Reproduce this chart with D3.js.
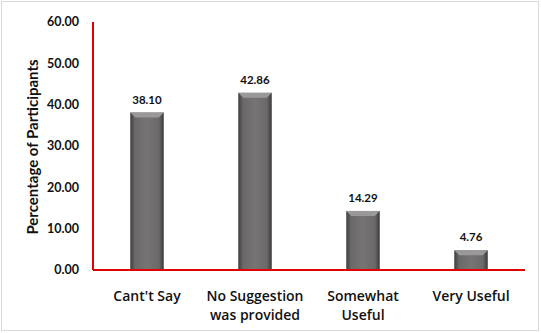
<!DOCTYPE html>
<html>
<head>
<meta charset="utf-8">
<script src="https://cdn.jsdelivr.net/npm/d3@7"></script>
<style>
  body { margin: 0; background: #fff; }
  svg { display: block; font-family: Lato, "Open Sans", sans-serif; }
</style>
</head>
<body>
<div id="chart"></div>
<script>
// chart values
var categories = ["Cant't Say", "No Suggestion|was provided", "Somewhat|Useful", "Very Useful"];
var values = [38.10, 42.86, 14.29, 4.76];
var yTicks = [0, 10, 20, 30, 40, 50, 60];

var W = 541, H = 333;
var m = {top: 22, right: 16, bottom: 63, left: 93};

var svg = d3.select("#chart").append("svg")
    .attr("width", W)
    .attr("height", H);

// outer frame
svg.append("rect")
    .attr("x", 1.5).attr("y", 1.5)
    .attr("width", W - 4).attr("height", H - 4)
    .attr("fill", "#fff")
    .attr("stroke", "#d9d9d9");

var defs = svg.append("defs");
var grad = defs.append("linearGradient").attr("id", "barGrad")
    .attr("x1", "0%").attr("x2", "100%").attr("y1", "0%").attr("y2", "0%");
grad.append("stop").attr("offset", "0%").attr("stop-color", "#3e3c3c");
grad.append("stop").attr("offset", "14%").attr("stop-color", "#6a6868");
grad.append("stop").attr("offset", "50%").attr("stop-color", "#767474");
grad.append("stop").attr("offset", "86%").attr("stop-color", "#6a6868");
grad.append("stop").attr("offset", "100%").attr("stop-color", "#3a3838");

var x = d3.scaleBand()
    .domain(categories)
    .range([m.left, W - m.right])
    .paddingInner(0.69)
    .paddingOuter(0.345);

var y = d3.scaleLinear()
    .domain([0, 60])
    .range([H - m.bottom, m.top]);

var g = svg.append("g");

// bars
var bars = g.selectAll(".bar").data(values).enter().append("g").attr("class", "bar");

bars.append("rect")
    .attr("x", function(d, i) { return x(categories[i]); })
    .attr("y", function(d) { return y(d); })
    .attr("width", x.bandwidth())
    .attr("height", function(d) { return y(0) - y(d); })
    .attr("fill", "url(#barGrad)");

// top bevel
bars.append("path")
    .attr("d", function(d, i) {
        var x0 = x(categories[i]), x1 = x0 + x.bandwidth(), t = y(d), b = 5;
        return "M" + x0 + "," + t + "L" + x1 + "," + t + "L" + (x1 - b) + "," + (t + b) + "L" + (x0 + b) + "," + (t + b) + "Z";
    })
    .attr("fill", "#9a9898");

// value labels
bars.append("text")
    .attr("x", function(d, i) { return x(categories[i]) + x.bandwidth() / 2; })
    .attr("y", function(d) { return y(d) - 9; })
    .attr("text-anchor", "middle")
    .attr("font-size", 11.5)
    .attr("font-weight", "bold")
    .attr("fill", "#111")
    .text(function(d) { return d.toFixed(2); });

// y tick labels
g.selectAll(".ytick").data(yTicks).enter().append("text")
    .attr("x", 79)
    .attr("y", function(d) { return y(d); })
    .attr("dy", "0.35em")
    .attr("text-anchor", "end")
    .attr("font-size", 12.5)
    .attr("font-weight", "bold")
    .attr("fill", "#111")
    .text(function(d) { return d.toFixed(2); });

// x category labels
var xl = g.selectAll(".xlab").data(categories).enter().append("text")
    .attr("text-anchor", "middle")
    .attr("font-family", "'Open Sans', sans-serif")
    .attr("font-size", 14)
    .attr("font-weight", 600)
    .attr("fill", "#111")
    .attr("transform", function(d) { return "translate(" + (x(d) + x.bandwidth() / 2) + "," + (y(0) + 31) + ")"; });
xl.selectAll("tspan").data(function(d) { return d.split("|"); }).enter().append("tspan")
    .attr("x", 0)
    .attr("dy", function(d, i) { return i === 0 ? 0 : 19; })
    .text(function(d) { return d; });

// axis lines in red
g.append("line")
    .attr("x1", m.left).attr("x2", m.left)
    .attr("y1", y(60)).attr("y2", y(0))
    .attr("stroke", "#e00000").attr("stroke-width", 2);
g.append("line")
    .attr("x1", m.left).attr("x2", W - m.right)
    .attr("y1", y(0)).attr("y2", y(0))
    .attr("stroke", "#e00000").attr("stroke-width", 2);

// y axis title
svg.append("text")
    .attr("transform", "translate(38," + ((y(0) + y(60)) / 2 + 1) + ") rotate(-90)")
    .attr("text-anchor", "middle")
    .attr("font-size", 15)
    .attr("font-weight", "bold")
    .attr("fill", "#111")
    .text("Percentage of Participants");
</script>
</body>
</html>
